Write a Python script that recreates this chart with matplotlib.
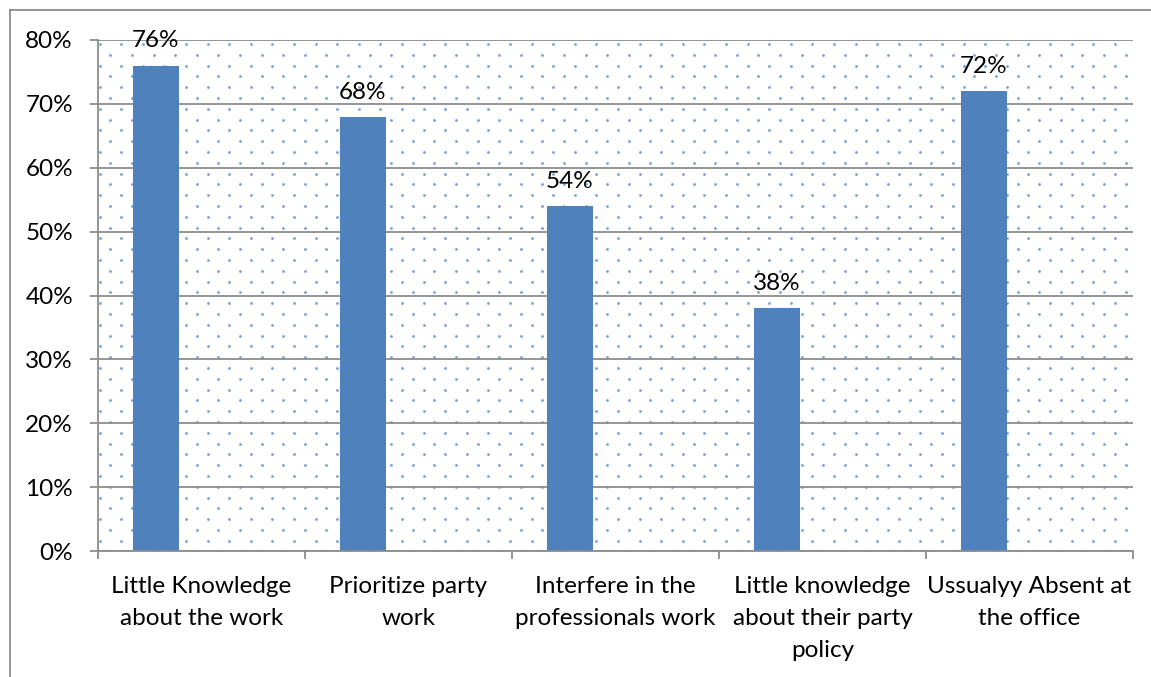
import numpy as np
import matplotlib
matplotlib.use("Agg")
import matplotlib.pyplot as plt
from matplotlib.lines import Line2D

plt.rcParams['font.family'] = ['Lato', 'DejaVu Sans']

categories = [
    "Little Knowledge\nabout the work",
    "Prioritize party\nwork",
    "Interfere in the\nprofessionals work",
    "Little knowledge\nabout their party\npolicy",
    "Ussualyy Absent at\nthe office",
]
values = [76, 68, 54, 38, 72]
y_ticks = [0, 10, 20, 30, 40, 50, 60, 70, 80]

W, H = 1151, 677
fig = plt.figure(figsize=(W / 100, H / 100), dpi=100)
fig.patch.set_facecolor("white")

# chart-area frame (top and left edges)
fig.add_artist(Line2D([10 / W, 1.0], [1 - 10 / H, 1 - 10 / H], color="#8c8c8c", lw=1.3))
fig.add_artist(Line2D([10 / W, 10 / W], [0.0, 1 - 10 / H], color="#8c8c8c", lw=1.3))

ax_left, ax_right, ax_top, ax_bottom = 98, 1133, 40, 551
ax = fig.add_axes([ax_left / W, (H - ax_bottom) / H,
                   (ax_right - ax_left) / W, (ax_bottom - ax_top) / H])

# dotted background fill of the plot area
aw, ah = ax_right - ax_left, ax_bottom - ax_top
step = 10.8
pts = []
for r, yy in enumerate(np.arange(ah - 4, -1, -step)):
    x0 = 1.5 + (step if r % 2 else 0)
    for xx in np.arange(x0, aw, 2 * step):
        pts.append((xx / aw, yy / ah))
pts = np.array(pts)
ax.scatter(pts[:, 0], pts[:, 1], s=4.0, color="#5b8ed4", alpha=0.85,
           linewidths=0, transform=ax.transAxes, zorder=0.5)

x = np.arange(len(categories))
bw = 0.222
bars = ax.bar(x - bw, values, width=bw, color="#4f81bd", zorder=3)

FS = 17.5
for xi, v in zip(x, values):
    ax.annotate(f"{v}%", (xi - bw, v), xytext=(0, 13), textcoords="offset points",
                ha="center", va="baseline", fontsize=FS, color="black", zorder=4)

ax.set_xlim(-0.5, len(categories) - 0.5)
ax.set_ylim(0, 80)
ax.set_yticks(y_ticks)
ax.set_yticklabels([f"{t}%" for t in y_ticks])
ax.yaxis.grid(True, color="#8c8c8c", lw=1.3, zorder=1)
ax.set_axisbelow(True)

ax.set_xticks(np.arange(-0.5, len(categories), 1.0))
ax.set_xticklabels([])
ax.set_xticks(x, minor=True)
ax.set_xticklabels(categories, minor=True, fontsize=FS, linespacing=1.66)
ax.tick_params(axis="x", which="minor", length=0, pad=18)
ax.tick_params(axis="x", which="major", length=6, width=1.3, color="#8c8c8c", direction="out")
ax.tick_params(axis="y", length=6, width=1.3, color="#8c8c8c", direction="out",
               labelsize=FS, pad=12)

for s in ["top", "right"]:
    ax.spines[s].set_visible(False)
for s in ["left", "bottom"]:
    ax.spines[s].set_color("#8c8c8c")
    ax.spines[s].set_linewidth(1.3)
    ax.spines[s].set_zorder(5)
ax.set_facecolor("white")

fig.savefig("out.png", dpi=100, facecolor="white")
